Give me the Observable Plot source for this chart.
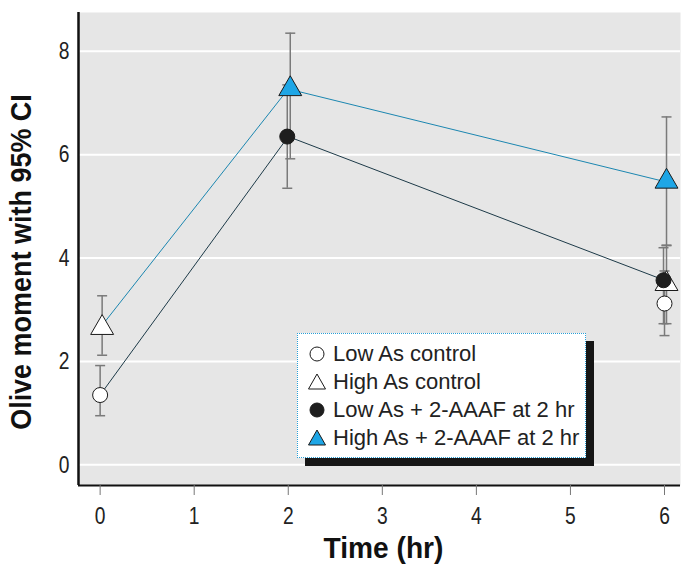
<!DOCTYPE html>
<html><head><meta charset="utf-8">
<script src="https://cdn.jsdelivr.net/npm/d3@7"></script>
<script src="https://cdn.jsdelivr.net/npm/@observablehq/plot@0.6"></script>
<style>
body{margin:0;background:#fff;}
#wrap{position:relative;width:687px;height:566px;}
#legend{position:absolute;left:297px;top:333px;width:289px;height:125px;background:#fff;border:1px dotted #2a9fd6;box-shadow:8px 8px 0 #161616;font-family:"Liberation Sans",Arial,sans-serif;font-size:22px;color:#222;box-sizing:border-box;padding-top:6px;}
#legend .row{display:flex;align-items:center;height:28px;}
#legend svg{margin-left:10px;margin-right:7px;}
</style></head>
<body><div id="wrap"></div>
<script>
const seriesNames = ["Low As control","High As control","Low As + 2-AAAF at 2 hr","High As + 2-AAAF at 2 hr"];
const seriesSymbols = ["circle","triangle","circle","triangle"];
const seriesFills = ["#ffffff","#ffffff","#1e1e1e","#1ea6e6"];
const seriesDx = [0, 2, -1, 2];
// times and values per series
const lowCtrlTime = [0, 6], lowCtrlMean = [1.35, 3.12], lowCtrlLo = [0.95, 2.50], lowCtrlHi = [1.92, 3.75];
const highCtrlTime = [0, 6], highCtrlMean = [2.65, 3.50], highCtrlLo = [2.12, 2.73], highCtrlHi = [3.27, 4.25];
const lowAAAFTime = [2, 6], lowAAAFMean = [6.35, 3.57], lowAAAFLo = [5.35, 2.73], lowAAAFHi = [7.35, 4.20];
const highAAAFTime = [2, 6], highAAAFMean = [7.27, 5.48], highAAAFLo = [5.92, 4.24], highAAAFHi = [8.35, 6.73];
const xTicks = [0,1,2,3,4,5,6];
const yTicks = [0,2,4,6,8];
const xDomain = [-0.23, 6.17];
const yDomain = [-0.4, 8.75];
const yTitle = "Olive moment with 95% CI";
const xTitle = "Time (hr)";

const raw = [
  [lowCtrlTime, lowCtrlMean, lowCtrlLo, lowCtrlHi],
  [highCtrlTime, highCtrlMean, highCtrlLo, highCtrlHi],
  [lowAAAFTime, lowAAAFMean, lowAAAFLo, lowAAAFHi],
  [highAAAFTime, highAAAFMean, highAAAFLo, highAAAFHi]
];
const pts = [];
raw.forEach((s, i) => s[0].forEach((t, j) => pts.push({series: i, name: seriesNames[i], t, y: s[1][j], lo: s[2][j], hi: s[3][j]})));
const lowLine = pts.filter(d => (d.series === 0 && d.t === 0) || d.series === 2);
const highLine = pts.filter(d => (d.series === 1 && d.t === 0) || d.series === 3);

const capSymbol = {draw(ctx, size){ const r = 5; ctx.moveTo(-r,0); ctx.lineTo(r,0); }};
const FONT = "Liberation Sans, Arial, sans-serif";

const marks = [
  Plot.frame({fill:"#e6e6e6", stroke:null}),
  Plot.gridY(yTicks, {stroke:"#fff", strokeOpacity:1, strokeWidth:2}),
  Plot.line(lowLine, {x:"t", y:"y", stroke:"#1d3a48", strokeWidth:1}),
  Plot.line(highLine, {x:"t", y:"y", stroke:"#1b86b0", strokeWidth:1}),
];
[3,2,1,0].forEach(i => {
  const d = pts.filter(p => p.series === i);
  marks.push(
    Plot.ruleX(d, {x:"t", y1:"lo", y2:"hi", stroke:"#7a7a7a", strokeWidth:1.5, dx: seriesDx[i]}),
    Plot.dot(d, {x:"t", y:"lo", symbol:capSymbol, stroke:"#7a7a7a", strokeWidth:1.5, dx: seriesDx[i]}),
    Plot.dot(d, {x:"t", y:"hi", symbol:capSymbol, stroke:"#7a7a7a", strokeWidth:1.5, dx: seriesDx[i]})
  );
});
[1,0,2,3].forEach(i => {
  const d = pts.filter(p => p.series === i);
  marks.push(Plot.dot(d, {x:"t", y:"y", symbol:seriesSymbols[i], r: seriesSymbols[i]==="triangle" ? 8.5 : 7.5, fill:seriesFills[i], stroke:"#1a1a1a", strokeWidth:1, dx: seriesDx[i]}));
});
marks.push(
  Plot.ruleX([xDomain[0]], {stroke:"#111", strokeWidth:2.5}),
  Plot.ruleY([yDomain[0]], {stroke:"#111", strokeWidth:2}),
  Plot.axisY(yTicks, {tickSize:0, tickPadding:9, fontSize:24, label:null, tickFormat:"d", fontFamily:FONT, fill:"#222"}),
  Plot.axisY([], {label:yTitle, labelAnchor:"center", labelArrow:"none", labelOffset:68, fontSize:29, fontWeight:"bold", fontFamily:FONT, fill:"#111"}),
  Plot.axisX(xTicks, {tickSize:10, tickPadding:11, stroke:"#777", fontSize:24, label:null, fontFamily:FONT, fill:"#222"}),
  Plot.axisX([], {label:xTitle, labelAnchor:"center", labelArrow:"none", labelOffset:72, fontSize:29, fontWeight:"bold", fontFamily:FONT, fill:"#111"})
);

const chart = Plot.plot({
  width: 687, height: 566,
  marginLeft: 78, marginRight: 7, marginTop: 12, marginBottom: 81,
  x: {domain: xDomain},
  y: {domain: yDomain},
  style: {background:"#fff", overflow:"visible"},
  marks
});
const wrap = document.getElementById("wrap");
wrap.appendChild(chart);

// condense text to mimic the condensed typeface of the original
const root = chart.tagName.toLowerCase() === "svg" ? chart : chart.querySelector("svg");
root.querySelectorAll("text").forEach(el => {
  const txt = el.textContent.trim();
  let factor = null, shift = null;
  if (txt === yTitle) { factor = 0.93; shift = "translate(0,13) "; }
  else if (txt === xTitle) { factor = 0.97; shift = "translate(4,0) "; }
  else if (/^-?\d+$/.test(txt)) factor = 0.8;
  if (factor == null) return;
  const len = el.getComputedTextLength();
  if (len > 0) { el.setAttribute("textLength", (len * factor).toFixed(1)); el.setAttribute("lengthAdjust", "spacingAndGlyphs"); }
  if (shift) el.setAttribute("transform", shift + (el.getAttribute("transform") || ""));
});

// legend
const legend = document.createElement("div");
legend.id = "legend";
seriesNames.forEach((name, i) => {
  const row = document.createElement("div");
  row.className = "row";
  const sym = seriesSymbols[i] === "circle"
    ? `<circle cx="9" cy="9" r="7" fill="${seriesFills[i]}" stroke="#1a1a1a" stroke-width="1"/>`
    : `<path d="M9,1 L17.5,16 L0.5,16 Z" fill="${seriesFills[i]}" stroke="#1a1a1a" stroke-width="1"/>`;
  row.innerHTML = `<svg width="18" height="18">${sym}</svg><span>${name}</span>`;
  legend.appendChild(row);
});
wrap.appendChild(legend);
</script></body></html>
